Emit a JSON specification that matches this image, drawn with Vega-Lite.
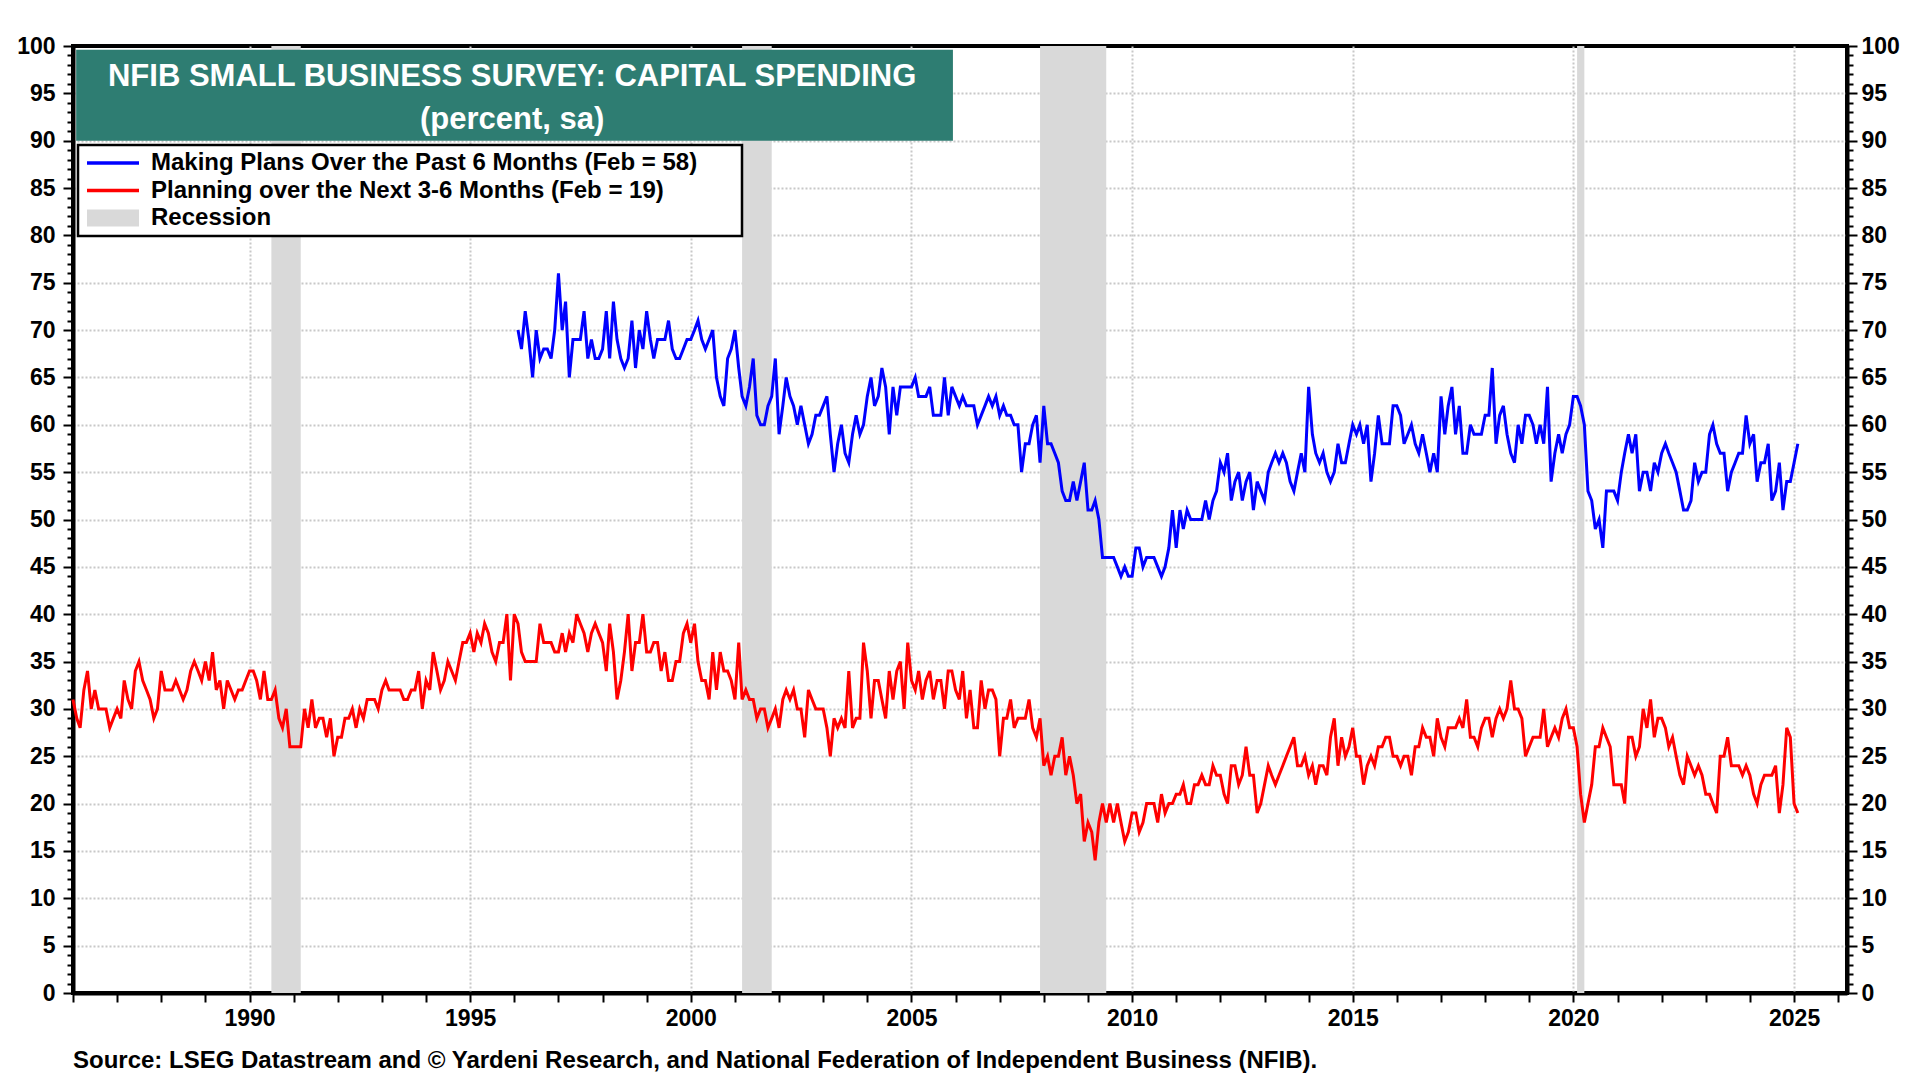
{
  "$schema": "https://vega.github.io/schema/vega-lite/v6.json",
  "width": 1774,
  "height": 947,
  "autosize": {"type": "none"},
  "padding": {"left": 73, "top": 46, "right": 73, "bottom": 87},
  "background": "white",
  "title": {
    "text": "Source: LSEG Datastream and © Yardeni Research, and National Federation of Independent Business (NFIB).",
    "orient": "bottom", "anchor": "start", "frame": "group", "offset": 19,
    "font": "Liberation Sans", "fontSize": 24, "fontWeight": "bold", "color": "black"
  },
  "datasets": {
    "recessions": [
      {"start": "1990-07", "end": "1991-03"},
      {"start": "2001-03", "end": "2001-11"},
      {"start": "2007-12", "end": "2009-06"},
      {"start": "2020-02", "end": "2020-04"}
    ],
    "survey": [
      {"date":"1986-01","next":31},{"date":"1986-02","next":29},{"date":"1986-03","next":28},{"date":"1986-04","next":32},{"date":"1986-05","next":34},{"date":"1986-06","next":30},{"date":"1986-07","next":32},{"date":"1986-08","next":30},{"date":"1986-09","next":30},{"date":"1986-10","next":30},{"date":"1986-11","next":28},{"date":"1986-12","next":29},
      {"date":"1987-01","next":30},{"date":"1987-02","next":29},{"date":"1987-03","next":33},{"date":"1987-04","next":31},{"date":"1987-05","next":30},{"date":"1987-06","next":34},{"date":"1987-07","next":35},{"date":"1987-08","next":33},{"date":"1987-09","next":32},{"date":"1987-10","next":31},{"date":"1987-11","next":29},{"date":"1987-12","next":30},
      {"date":"1988-01","next":34},{"date":"1988-02","next":32},{"date":"1988-03","next":32},{"date":"1988-04","next":32},{"date":"1988-05","next":33},{"date":"1988-06","next":32},{"date":"1988-07","next":31},{"date":"1988-08","next":32},{"date":"1988-09","next":34},{"date":"1988-10","next":35},{"date":"1988-11","next":34},{"date":"1988-12","next":33},
      {"date":"1989-01","next":35},{"date":"1989-02","next":33},{"date":"1989-03","next":36},{"date":"1989-04","next":32},{"date":"1989-05","next":33},{"date":"1989-06","next":30},{"date":"1989-07","next":33},{"date":"1989-08","next":32},{"date":"1989-09","next":31},{"date":"1989-10","next":32},{"date":"1989-11","next":32},{"date":"1989-12","next":33},
      {"date":"1990-01","next":34},{"date":"1990-02","next":34},{"date":"1990-03","next":33},{"date":"1990-04","next":31},{"date":"1990-05","next":34},{"date":"1990-06","next":31},{"date":"1990-07","next":31},{"date":"1990-08","next":32},{"date":"1990-09","next":29},{"date":"1990-10","next":28},{"date":"1990-11","next":30},{"date":"1990-12","next":26},
      {"date":"1991-01","next":26},{"date":"1991-02","next":26},{"date":"1991-03","next":26},{"date":"1991-04","next":30},{"date":"1991-05","next":28},{"date":"1991-06","next":31},{"date":"1991-07","next":28},{"date":"1991-08","next":29},{"date":"1991-09","next":29},{"date":"1991-10","next":27},{"date":"1991-11","next":29},{"date":"1991-12","next":25},
      {"date":"1992-01","next":27},{"date":"1992-02","next":27},{"date":"1992-03","next":29},{"date":"1992-04","next":29},{"date":"1992-05","next":30},{"date":"1992-06","next":28},{"date":"1992-07","next":30},{"date":"1992-08","next":29},{"date":"1992-09","next":31},{"date":"1992-10","next":31},{"date":"1992-11","next":31},{"date":"1992-12","next":30},
      {"date":"1993-01","next":32},{"date":"1993-02","next":33},{"date":"1993-03","next":32},{"date":"1993-04","next":32},{"date":"1993-05","next":32},{"date":"1993-06","next":32},{"date":"1993-07","next":31},{"date":"1993-08","next":31},{"date":"1993-09","next":32},{"date":"1993-10","next":32},{"date":"1993-11","next":34},{"date":"1993-12","next":30},
      {"date":"1994-01","next":33},{"date":"1994-02","next":32},{"date":"1994-03","next":36},{"date":"1994-04","next":34},{"date":"1994-05","next":32},{"date":"1994-06","next":33},{"date":"1994-07","next":35},{"date":"1994-08","next":34},{"date":"1994-09","next":33},{"date":"1994-10","next":35},{"date":"1994-11","next":37},{"date":"1994-12","next":37},
      {"date":"1995-01","next":38},{"date":"1995-02","next":36},{"date":"1995-03","next":38},{"date":"1995-04","next":37},{"date":"1995-05","next":39},{"date":"1995-06","next":38},{"date":"1995-07","next":36},{"date":"1995-08","next":35},{"date":"1995-09","next":37},{"date":"1995-10","next":37},{"date":"1995-11","next":40},{"date":"1995-12","next":33},
      {"date":"1996-01","next":40},{"date":"1996-02","past":70,"next":39},{"date":"1996-03","past":68,"next":36},{"date":"1996-04","past":72,"next":35},{"date":"1996-05","past":69,"next":35},{"date":"1996-06","past":65,"next":35},{"date":"1996-07","past":70,"next":35},{"date":"1996-08","past":67,"next":39},{"date":"1996-09","past":68,"next":37},{"date":"1996-10","past":68,"next":37},{"date":"1996-11","past":67,"next":37},{"date":"1996-12","past":70,"next":36},
      {"date":"1997-01","past":76,"next":36},{"date":"1997-02","past":70,"next":38},{"date":"1997-03","past":73,"next":36},{"date":"1997-04","past":65,"next":38},{"date":"1997-05","past":69,"next":37},{"date":"1997-06","past":69,"next":40},{"date":"1997-07","past":69,"next":39},{"date":"1997-08","past":72,"next":38},{"date":"1997-09","past":67,"next":36},{"date":"1997-10","past":69,"next":38},{"date":"1997-11","past":67,"next":39},{"date":"1997-12","past":67,"next":38},
      {"date":"1998-01","past":68,"next":37},{"date":"1998-02","past":72,"next":34},{"date":"1998-03","past":67,"next":39},{"date":"1998-04","past":73,"next":36},{"date":"1998-05","past":69,"next":31},{"date":"1998-06","past":67,"next":33},{"date":"1998-07","past":66,"next":36},{"date":"1998-08","past":67,"next":40},{"date":"1998-09","past":71,"next":34},{"date":"1998-10","past":66,"next":37},{"date":"1998-11","past":70,"next":37},{"date":"1998-12","past":68,"next":40},
      {"date":"1999-01","past":72,"next":36},{"date":"1999-02","past":69,"next":36},{"date":"1999-03","past":67,"next":37},{"date":"1999-04","past":69,"next":37},{"date":"1999-05","past":69,"next":34},{"date":"1999-06","past":69,"next":36},{"date":"1999-07","past":71,"next":33},{"date":"1999-08","past":68,"next":33},{"date":"1999-09","past":67,"next":35},{"date":"1999-10","past":67,"next":35},{"date":"1999-11","past":68,"next":38},{"date":"1999-12","past":69,"next":39},
      {"date":"2000-01","past":69,"next":37},{"date":"2000-02","past":70,"next":39},{"date":"2000-03","past":71,"next":35},{"date":"2000-04","past":69,"next":33},{"date":"2000-05","past":68,"next":33},{"date":"2000-06","past":69,"next":31},{"date":"2000-07","past":70,"next":36},{"date":"2000-08","past":65,"next":32},{"date":"2000-09","past":63,"next":36},{"date":"2000-10","past":62,"next":34},{"date":"2000-11","past":67,"next":34},{"date":"2000-12","past":68,"next":33},
      {"date":"2001-01","past":70,"next":31},{"date":"2001-02","past":66,"next":37},{"date":"2001-03","past":63,"next":31},{"date":"2001-04","past":62,"next":32},{"date":"2001-05","past":64,"next":31},{"date":"2001-06","past":67,"next":31},{"date":"2001-07","past":61,"next":29},{"date":"2001-08","past":60,"next":30},{"date":"2001-09","past":60,"next":30},{"date":"2001-10","past":62,"next":28},{"date":"2001-11","past":63,"next":29},{"date":"2001-12","past":67,"next":30},
      {"date":"2002-01","past":59,"next":28},{"date":"2002-02","past":62,"next":31},{"date":"2002-03","past":65,"next":32},{"date":"2002-04","past":63,"next":31},{"date":"2002-05","past":62,"next":32},{"date":"2002-06","past":60,"next":30},{"date":"2002-07","past":62,"next":30},{"date":"2002-08","past":60,"next":27},{"date":"2002-09","past":58,"next":32},{"date":"2002-10","past":59,"next":31},{"date":"2002-11","past":61,"next":30},{"date":"2002-12","past":61,"next":30},
      {"date":"2003-01","past":62,"next":30},{"date":"2003-02","past":63,"next":28},{"date":"2003-03","past":59,"next":25},{"date":"2003-04","past":55,"next":29},{"date":"2003-05","past":58,"next":28},{"date":"2003-06","past":60,"next":29},{"date":"2003-07","past":57,"next":28},{"date":"2003-08","past":56,"next":34},{"date":"2003-09","past":59,"next":28},{"date":"2003-10","past":61,"next":29},{"date":"2003-11","past":59,"next":29},{"date":"2003-12","past":60,"next":37},
      {"date":"2004-01","past":63,"next":34},{"date":"2004-02","past":65,"next":29},{"date":"2004-03","past":62,"next":33},{"date":"2004-04","past":63,"next":33},{"date":"2004-05","past":66,"next":31},{"date":"2004-06","past":64,"next":29},{"date":"2004-07","past":59,"next":34},{"date":"2004-08","past":64,"next":31},{"date":"2004-09","past":61,"next":34},{"date":"2004-10","past":64,"next":35},{"date":"2004-11","past":64,"next":30},{"date":"2004-12","past":64,"next":37},
      {"date":"2005-01","past":64,"next":33},{"date":"2005-02","past":65,"next":32},{"date":"2005-03","past":63,"next":34},{"date":"2005-04","past":63,"next":31},{"date":"2005-05","past":63,"next":33},{"date":"2005-06","past":64,"next":34},{"date":"2005-07","past":61,"next":31},{"date":"2005-08","past":61,"next":33},{"date":"2005-09","past":61,"next":33},{"date":"2005-10","past":65,"next":30},{"date":"2005-11","past":61,"next":34},{"date":"2005-12","past":64,"next":34},
      {"date":"2006-01","past":63,"next":32},{"date":"2006-02","past":62,"next":31},{"date":"2006-03","past":63,"next":34},{"date":"2006-04","past":62,"next":29},{"date":"2006-05","past":62,"next":32},{"date":"2006-06","past":62,"next":28},{"date":"2006-07","past":60,"next":28},{"date":"2006-08","past":61,"next":33},{"date":"2006-09","past":62,"next":30},{"date":"2006-10","past":63,"next":32},{"date":"2006-11","past":62,"next":32},{"date":"2006-12","past":63,"next":31},
      {"date":"2007-01","past":61,"next":25},{"date":"2007-02","past":62,"next":29},{"date":"2007-03","past":61,"next":29},{"date":"2007-04","past":61,"next":31},{"date":"2007-05","past":60,"next":28},{"date":"2007-06","past":60,"next":29},{"date":"2007-07","past":55,"next":29},{"date":"2007-08","past":58,"next":29},{"date":"2007-09","past":58,"next":31},{"date":"2007-10","past":60,"next":28},{"date":"2007-11","past":61,"next":27},{"date":"2007-12","past":56,"next":29},
      {"date":"2008-01","past":62,"next":24},{"date":"2008-02","past":58,"next":25},{"date":"2008-03","past":58,"next":23},{"date":"2008-04","past":57,"next":25},{"date":"2008-05","past":56,"next":25},{"date":"2008-06","past":53,"next":27},{"date":"2008-07","past":52,"next":23},{"date":"2008-08","past":52,"next":25},{"date":"2008-09","past":54,"next":23},{"date":"2008-10","past":52,"next":20},{"date":"2008-11","past":54,"next":21},{"date":"2008-12","past":56,"next":16},
      {"date":"2009-01","past":51,"next":18},{"date":"2009-02","past":51,"next":17},{"date":"2009-03","past":52,"next":14},{"date":"2009-04","past":50,"next":18},{"date":"2009-05","past":46,"next":20},{"date":"2009-06","past":46,"next":18},{"date":"2009-07","past":46,"next":20},{"date":"2009-08","past":46,"next":18},{"date":"2009-09","past":45,"next":20},{"date":"2009-10","past":44,"next":18},{"date":"2009-11","past":45,"next":16},{"date":"2009-12","past":44,"next":17},
      {"date":"2010-01","past":44,"next":19},{"date":"2010-02","past":47,"next":19},{"date":"2010-03","past":47,"next":17},{"date":"2010-04","past":45,"next":18},{"date":"2010-05","past":46,"next":20},{"date":"2010-06","past":46,"next":20},{"date":"2010-07","past":46,"next":20},{"date":"2010-08","past":45,"next":18},{"date":"2010-09","past":44,"next":21},{"date":"2010-10","past":45,"next":19},{"date":"2010-11","past":47,"next":20},{"date":"2010-12","past":51,"next":20},
      {"date":"2011-01","past":47,"next":21},{"date":"2011-02","past":51,"next":21},{"date":"2011-03","past":49,"next":22},{"date":"2011-04","past":51,"next":20},{"date":"2011-05","past":50,"next":20},{"date":"2011-06","past":50,"next":22},{"date":"2011-07","past":50,"next":22},{"date":"2011-08","past":50,"next":23},{"date":"2011-09","past":52,"next":22},{"date":"2011-10","past":50,"next":22},{"date":"2011-11","past":52,"next":24},{"date":"2011-12","past":53,"next":23},
      {"date":"2012-01","past":56,"next":23},{"date":"2012-02","past":55,"next":21},{"date":"2012-03","past":57,"next":20},{"date":"2012-04","past":52,"next":24},{"date":"2012-05","past":54,"next":24},{"date":"2012-06","past":55,"next":22},{"date":"2012-07","past":52,"next":23},{"date":"2012-08","past":54,"next":26},{"date":"2012-09","past":55,"next":23},{"date":"2012-10","past":51,"next":23},{"date":"2012-11","past":54,"next":19},{"date":"2012-12","past":53,"next":20},
      {"date":"2013-01","past":52,"next":22},{"date":"2013-02","past":55,"next":24},{"date":"2013-03","past":56,"next":23},{"date":"2013-04","past":57,"next":22},{"date":"2013-05","past":56,"next":23},{"date":"2013-06","past":57,"next":24},{"date":"2013-07","past":56,"next":25},{"date":"2013-08","past":54,"next":26},{"date":"2013-09","past":53,"next":27},{"date":"2013-10","past":55,"next":24},{"date":"2013-11","past":57,"next":24},{"date":"2013-12","past":55,"next":25},
      {"date":"2014-01","past":64,"next":23},{"date":"2014-02","past":59,"next":24},{"date":"2014-03","past":57,"next":22},{"date":"2014-04","past":56,"next":24},{"date":"2014-05","past":57,"next":24},{"date":"2014-06","past":55,"next":23},{"date":"2014-07","past":54,"next":27},{"date":"2014-08","past":55,"next":29},{"date":"2014-09","past":58,"next":24},{"date":"2014-10","past":56,"next":27},{"date":"2014-11","past":56,"next":25},{"date":"2014-12","past":58,"next":26},
      {"date":"2015-01","past":60,"next":28},{"date":"2015-02","past":59,"next":25},{"date":"2015-03","past":60,"next":25},{"date":"2015-04","past":58,"next":22},{"date":"2015-05","past":60,"next":24},{"date":"2015-06","past":54,"next":25},{"date":"2015-07","past":57,"next":24},{"date":"2015-08","past":61,"next":26},{"date":"2015-09","past":58,"next":26},{"date":"2015-10","past":58,"next":27},{"date":"2015-11","past":58,"next":27},{"date":"2015-12","past":62,"next":25},
      {"date":"2016-01","past":62,"next":25},{"date":"2016-02","past":61,"next":24},{"date":"2016-03","past":58,"next":25},{"date":"2016-04","past":59,"next":25},{"date":"2016-05","past":60,"next":23},{"date":"2016-06","past":58,"next":26},{"date":"2016-07","past":57,"next":26},{"date":"2016-08","past":59,"next":28},{"date":"2016-09","past":57,"next":27},{"date":"2016-10","past":55,"next":27},{"date":"2016-11","past":57,"next":25},{"date":"2016-12","past":55,"next":29},
      {"date":"2017-01","past":63,"next":27},{"date":"2017-02","past":59,"next":26},{"date":"2017-03","past":62,"next":28},{"date":"2017-04","past":64,"next":28},{"date":"2017-05","past":59,"next":28},{"date":"2017-06","past":62,"next":29},{"date":"2017-07","past":57,"next":28},{"date":"2017-08","past":57,"next":31},{"date":"2017-09","past":60,"next":27},{"date":"2017-10","past":59,"next":27},{"date":"2017-11","past":59,"next":26},{"date":"2017-12","past":59,"next":28},
      {"date":"2018-01","past":61,"next":29},{"date":"2018-02","past":61,"next":29},{"date":"2018-03","past":66,"next":27},{"date":"2018-04","past":58,"next":29},{"date":"2018-05","past":61,"next":30},{"date":"2018-06","past":62,"next":29},{"date":"2018-07","past":59,"next":30},{"date":"2018-08","past":57,"next":33},{"date":"2018-09","past":56,"next":30},{"date":"2018-10","past":60,"next":30},{"date":"2018-11","past":58,"next":29},{"date":"2018-12","past":61,"next":25},
      {"date":"2019-01","past":61,"next":26},{"date":"2019-02","past":60,"next":27},{"date":"2019-03","past":58,"next":27},{"date":"2019-04","past":60,"next":27},{"date":"2019-05","past":58,"next":30},{"date":"2019-06","past":64,"next":26},{"date":"2019-07","past":54,"next":27},{"date":"2019-08","past":57,"next":28},{"date":"2019-09","past":59,"next":27},{"date":"2019-10","past":57,"next":29},{"date":"2019-11","past":59,"next":30},{"date":"2019-12","past":60,"next":28},
      {"date":"2020-01","past":63,"next":28},{"date":"2020-02","past":63,"next":26},{"date":"2020-03","past":62,"next":21},{"date":"2020-04","past":60,"next":18},{"date":"2020-05","past":53,"next":20},{"date":"2020-06","past":52,"next":22},{"date":"2020-07","past":49,"next":26},{"date":"2020-08","past":50,"next":26},{"date":"2020-09","past":47,"next":28},{"date":"2020-10","past":53,"next":27},{"date":"2020-11","past":53,"next":26},{"date":"2020-12","past":53,"next":22},
      {"date":"2021-01","past":52,"next":22},{"date":"2021-02","past":55,"next":22},{"date":"2021-03","past":57,"next":20},{"date":"2021-04","past":59,"next":27},{"date":"2021-05","past":57,"next":27},{"date":"2021-06","past":59,"next":25},{"date":"2021-07","past":53,"next":26},{"date":"2021-08","past":55,"next":30},{"date":"2021-09","past":55,"next":28},{"date":"2021-10","past":53,"next":31},{"date":"2021-11","past":56,"next":27},{"date":"2021-12","past":55,"next":29},
      {"date":"2022-01","past":57,"next":29},{"date":"2022-02","past":58,"next":28},{"date":"2022-03","past":57,"next":26},{"date":"2022-04","past":56,"next":27},{"date":"2022-05","past":55,"next":25},{"date":"2022-06","past":53,"next":23},{"date":"2022-07","past":51,"next":22},{"date":"2022-08","past":51,"next":25},{"date":"2022-09","past":52,"next":24},{"date":"2022-10","past":56,"next":23},{"date":"2022-11","past":54,"next":24},{"date":"2022-12","past":55,"next":23},
      {"date":"2023-01","past":55,"next":21},{"date":"2023-02","past":59,"next":21},{"date":"2023-03","past":60,"next":20},{"date":"2023-04","past":58,"next":19},{"date":"2023-05","past":57,"next":25},{"date":"2023-06","past":57,"next":25},{"date":"2023-07","past":53,"next":27},{"date":"2023-08","past":55,"next":24},{"date":"2023-09","past":56,"next":24},{"date":"2023-10","past":57,"next":24},{"date":"2023-11","past":57,"next":23},{"date":"2023-12","past":61,"next":24},
      {"date":"2024-01","past":58,"next":23},{"date":"2024-02","past":59,"next":21},{"date":"2024-03","past":54,"next":20},{"date":"2024-04","past":56,"next":22},{"date":"2024-05","past":56,"next":23},{"date":"2024-06","past":58,"next":23},{"date":"2024-07","past":52,"next":23},{"date":"2024-08","past":53,"next":24},{"date":"2024-09","past":56,"next":19},{"date":"2024-10","past":51,"next":22},{"date":"2024-11","past":54,"next":28},{"date":"2024-12","past":54,"next":27},
      {"date":"2025-01","past":56,"next":20},{"date":"2025-02","past":58,"next":19}
    ]
  },
  "config": {
    "font": "Liberation Sans",
    "view": {"stroke": "black", "strokeWidth": 4},
    "axis": {
      "labelFont": "Liberation Sans", "labelFontSize": 23, "labelFontWeight": "bold", "labelColor": "black",
      "domainColor": "black", "domainWidth": 4, "tickColor": "black", "tickWidth": 2,
      "gridColor": "#c8c8c8", "gridDash": [2, 2], "gridWidth": 2,
      "labelOverlap": false, "labelFlush": false
    }
  },
  "resolve": {"axis": {"x": "independent", "y": "independent"}},
  "layer": [
    {
      "data": {"name": "recessions"},
      "mark": {"type": "rect"},
      "encoding": {
        "x": {
          "field": "start", "type": "temporal",
          "axis": {
            "orient": "top", "title": null,
            "values": [{"year": 1990, "utc": true}, {"year": 1995, "utc": true}, {"year": 2000, "utc": true}, {"year": 2005, "utc": true}, {"year": 2010, "utc": true}, {"year": 2015, "utc": true}, {"year": 2020, "utc": true}, {"year": 2025, "utc": true}],
            "grid": true, "labels": false, "ticks": false, "domain": false
          }
        },
        "x2": {"field": "end"},
        "color": {"datum": "rec", "type": "nominal"}
      }
    },
    {
      "data": {"name": "survey"},
      "transform": [{"fold": ["past", "next"], "as": ["series", "value"]}],
      "mark": {"type": "line", "strokeWidth": 3},
      "encoding": {
        "x": {
          "field": "date", "type": "temporal",
          "scale": {"type": "utc", "domain": [{"year": 1986, "month": 1, "date": 1, "utc": true}, {"year": 2026, "month": 3, "date": 15, "utc": true}]},
          "axis": {
            "orient": "bottom", "title": null,
            "values": [
              {"year": 1986, "utc": true}, {"year": 1987, "utc": true}, {"year": 1988, "utc": true}, {"year": 1989, "utc": true}, {"year": 1990, "utc": true},
              {"year": 1991, "utc": true}, {"year": 1992, "utc": true}, {"year": 1993, "utc": true}, {"year": 1994, "utc": true}, {"year": 1995, "utc": true},
              {"year": 1996, "utc": true}, {"year": 1997, "utc": true}, {"year": 1998, "utc": true}, {"year": 1999, "utc": true}, {"year": 2000, "utc": true},
              {"year": 2001, "utc": true}, {"year": 2002, "utc": true}, {"year": 2003, "utc": true}, {"year": 2004, "utc": true}, {"year": 2005, "utc": true},
              {"year": 2006, "utc": true}, {"year": 2007, "utc": true}, {"year": 2008, "utc": true}, {"year": 2009, "utc": true}, {"year": 2010, "utc": true},
              {"year": 2011, "utc": true}, {"year": 2012, "utc": true}, {"year": 2013, "utc": true}, {"year": 2014, "utc": true}, {"year": 2015, "utc": true},
              {"year": 2016, "utc": true}, {"year": 2017, "utc": true}, {"year": 2018, "utc": true}, {"year": 2019, "utc": true}, {"year": 2020, "utc": true},
              {"year": 2021, "utc": true}, {"year": 2022, "utc": true}, {"year": 2023, "utc": true}, {"year": 2024, "utc": true}, {"year": 2025, "utc": true},
              {"year": 2026, "utc": true}
            ],
            "labelExpr": "utcyear(datum.value) % 5 === 0 ? '' + utcyear(datum.value) : ''",
            "tickSize": 9, "labelPadding": 5, "grid": false
          }
        },
        "y": {
          "field": "value", "type": "quantitative",
          "scale": {"domain": [0, 100], "nice": false},
          "axis": {
            "orient": "left", "title": null, "tickCount": 100,
            "labelExpr": "datum.value % 5 === 0 ? datum.label : ''",
            "tickSize": {"condition": {"test": "datum.value % 5 === 0", "value": 10}, "value": 6},
            "labelPadding": 8,
            "grid": true,
            "gridOpacity": {"condition": {"test": "datum.value % 5 === 0 && datum.value > 0 && datum.value < 100", "value": 1}, "value": 0}
          }
        },
        "color": {
          "field": "series", "type": "nominal",
          "scale": {"domain": ["past", "next", "rec"], "range": ["#0000ff", "#ff0000", "#d9d9d9"]},
          "legend": {
            "title": null, "orient": "none", "legendX": 5, "legendY": 99, "direction": "vertical",
            "labelExpr": "datum.value === 'past' ? 'Making Plans Over the Past 6 Months (Feb = 58)\u00a0\u00a0\u00a0\u2800' : datum.value === 'next' ? 'Planning over the Next 3-6 Months (Feb = 19)' : 'Recession'",
            "labelFont": "Liberation Sans", "labelFontSize": 24, "labelFontWeight": "bold", "labelColor": "black", "labelLimit": 1000,
            "symbolSize": 400, "symbolOffset": 17, "labelOffset": 26, "rowPadding": 3.5,
            "symbolStrokeWidth": 3.5,
            "padding": 6, "fillColor": "white", "strokeColor": "black",
            "encode": {
              "legend": {"update": {"strokeWidth": {"value": 2.5}}},
              "symbols": {"update": {
                "shape": {"signal": "datum.value === 'rec' ? 'M-2.6,-0.85H2.6V0.85H-2.6Z' : 'M-2.6,0H2.6'"},
                "fill": {"signal": "datum.value === 'rec' ? '#d9d9d9' : 'transparent'"},
                "stroke": {"signal": "datum.value === 'rec' ? 'transparent' : scale('color', datum.value)"},
                "strokeWidth": {"signal": "datum.value === 'rec' ? 0 : 3.5"},
                "opacity": {"value": 1}
              }}
            }
          }
        }
      }
    },
    {
      "data": {"values": [{}]},
      "mark": {"type": "rect", "color": "#2e7d72"},
      "encoding": {
        "x": {"datum": {"year": 1986, "month": 1, "date": 27, "utc": true}, "type": "temporal", "axis": null},
        "x2": {"datum": {"year": 2005, "month": 12, "date": 10, "utc": true}},
        "y": {
          "datum": 90, "type": "quantitative",
          "axis": {
            "orient": "right", "title": null, "tickCount": 100,
            "labelExpr": "datum.value % 5 === 0 ? datum.label : ''",
            "tickSize": {"condition": {"test": "datum.value % 5 === 0", "value": 10}, "value": 6},
            "labelPadding": 4, "grid": false
          }
        },
        "y2": {"datum": 99.6}
      }
    },
    {
      "data": {"values": [{}]},
      "mark": {"type": "text", "color": "white", "font": "Liberation Sans", "fontSize": 31, "fontWeight": "bold", "align": "center", "baseline": "middle"},
      "encoding": {
        "x": {"datum": {"year": 1995, "month": 12, "date": 15, "utc": true}, "type": "temporal", "axis": null},
        "y": {"datum": 96.7, "type": "quantitative", "axis": null},
        "text": {"value": "NFIB SMALL BUSINESS SURVEY: CAPITAL SPENDING"}
      }
    },
    {
      "data": {"values": [{}]},
      "mark": {"type": "text", "color": "white", "font": "Liberation Sans", "fontSize": 31, "fontWeight": "bold", "align": "center", "baseline": "middle"},
      "encoding": {
        "x": {"datum": {"year": 1995, "month": 12, "date": 15, "utc": true}, "type": "temporal", "axis": null},
        "y": {"datum": 92.2, "type": "quantitative", "axis": null},
        "text": {"value": "(percent, sa)"}
      }
    }
  ]
}
